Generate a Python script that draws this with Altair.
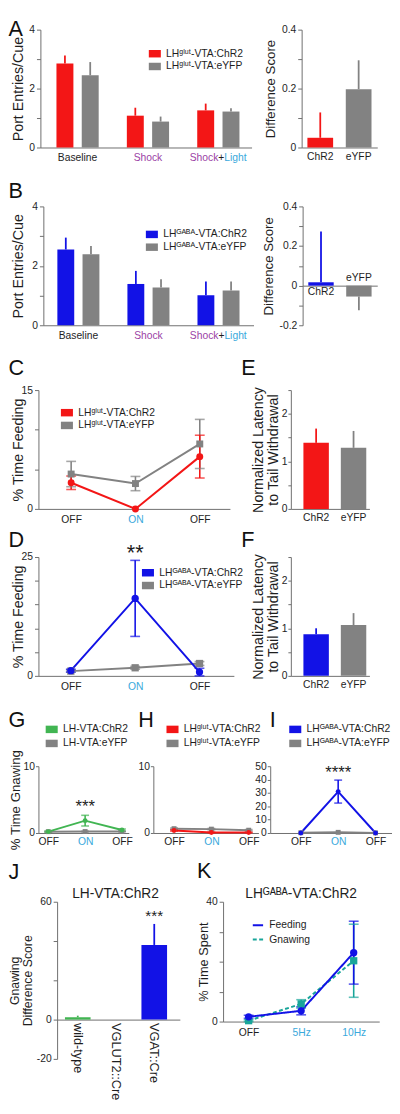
import altair as alt
import numpy as np
import pandas as pd

FONT = "Liberation Sans"
RED = "#f31616"
GRAY = "#828282"
BLUE = "#1212e6"
GREEN = "#41b552"
PURPLE = "#9b3fa5"
CYAN = "#3aa9dc"
TEAL = "#18a59a"
TXT = "#1e1e1e"
AXC = "#6e6e6e"

# ---------------- data ----------------
ab_conditions = ["Baseline", "Shock", "Shock+Light"]
glut_groups = ["LHᵍˡᵘᵗ-VTA:ChR2", "LHᵍˡᵘᵗ-VTA:eYFP"]
gaba_groups = ["LHᴳᴬᴮᴬ-VTA:ChR2", "LHᴳᴬᴮᴬ-VTA:eYFP"]
lh_groups = ["LH-VTA:ChR2", "LH-VTA:eYFP"]
virus = ["ChR2", "eYFP"]

a_chr2_mean = [2.85, 1.08, 1.26]
a_chr2_sem = [0.27, 0.27, 0.23]
a_eyfp_mean = [2.45, 0.88, 1.22]
a_eyfp_sem = [0.45, 0.17, 0.11]
a_diff_mean = [0.033, 0.198]
a_diff_sem = [0.086, 0.098]

b_chr2_mean = [2.55, 1.39, 1.01]
b_chr2_sem = [0.40, 0.44, 0.46]
b_eyfp_mean = [2.39, 1.27, 1.17]
b_eyfp_sem = [0.28, 0.28, 0.30]
b_diff_mean = [0.017, -0.055]
b_diff_sem = [0.257, 0.069]

light_conditions = ["OFF 1", "ON", "OFF 2"]
c_chr2_mean = [3.3, 0.0, 6.6]
c_chr2_sem = [0.85, 0.0, 2.7]
c_eyfp_mean = [4.4, 3.2, 8.2]
c_eyfp_sem = [1.6, 0.9, 3.1]

d_chr2_mean = [1.1, 16.3, 0.8]
d_chr2_sem = [0.3, 8.0, 0.8]
d_eyfp_mean = [1.0, 1.7, 2.6]
d_eyfp_sem = [0.2, 0.3, 0.4]
d_sig = ["ON", 24.4, "**"]

e_mean = [1.39, 1.285]
e_sem = [0.30, 0.355]
f_mean = [0.876, 1.07]
f_sem = [0.125, 0.25]

g_chr2_mean = [0.2, 1.85, 0.45]
g_chr2_sem = [0.1, 0.8, 0.15]
g_eyfp_mean = [0.2, 0.22, 0.22]
g_eyfp_sem = [0.05, 0.05, 0.05]
g_sig = ["ON", 3.1, "***"]

h_chr2_mean = [0.38, 0.08, 0.08]
h_chr2_sem = [0.1, 0.05, 0.05]
h_eyfp_mean = [0.65, 0.58, 0.42]
h_eyfp_sem = [0.1, 0.1, 0.1]

i_chr2_mean = [0.0, 31.0, 0.0]
i_chr2_sem = [0.0, 8.6, 0.0]
i_eyfp_mean = [0.2, 0.5, 0.1]
i_eyfp_sem = [0.0, 0.0, 0.0]
i_sig = ["ON", 41.2, "****"]

j_genotypes = ["wild-type", "VGLUT2::Cre", "VGAT::Cre"]
j_mean = [1.2, 0.0, 38.0]
j_sem = [0.8, 0.0, 10.7]
j_sig = ["VGAT::Cre", 50.0, "***"]

k_freqs = ["OFF", "5Hz", "10Hz"]
k_series = ["Feeding", "Gnawing"]
k_feed_mean = [1.6, 3.6, 23.0]
k_feed_sem = [0.5, 1.35, 10.5]
k_gnaw_mean = [0.3, 5.9, 20.3]
k_gnaw_sem = [0.3, 1.4, 12.2]

# tick values / labels
port_ticks, port_labels = [0, 1, 2, 3, 4], ["0", "", "2", "", "4"]
diffa_ticks, diffa_labels = [0, 0.1, 0.2, 0.3, 0.4], ["0", "", "0.2", "", "0.4"]
diffb_ticks = [-0.2, -0.1, 0, 0.1, 0.2, 0.3, 0.4]
diffb_labels = ["-0.2", "", "0", "", "0.2", "", "0.4"]
c_ticks, c_labels = [0, 5, 10, 15], ["0", "", "", "15"]
d_ticks, d_labels = [0, 5, 10, 15, 20, 25], ["0", "", "", "", "", "25"]
lat_ticks, lat_labels = [0, 0.5, 1, 1.5, 2, 2.5], ["0", "", "1", "", "2", ""]
gh_ticks, gh_labels = [0, 10], ["0", "10"]
i_ticks, i_labels = [0, 10, 20, 30, 40, 50], ["0", "10", "20", "30", "40", "50"]
j_ticks, j_labels = [-20, 0, 20, 40, 60], ["-20", "0", "", "", "60"]
k_ticks, k_labels = [0, 10, 20, 30, 40], ["0", "", "", "", "40"]


# ---------------- helpers ----------------
def lbl_expr(values, labels):
    parts = [f"datum.value == {v} ? '{l}'" for v, l in zip(values, labels) if l != ""]
    return " : ".join(parts) + " : ''"


def axis(**kw):
    d = dict(labelFont=FONT, labelColor=TXT, titleFont=FONT, titleColor=TXT,
             titleFontWeight="normal", domainColor=AXC, tickColor=AXC, grid=False,
             domainWidth=1, tickWidth=1, labelFontSize=10.5, labelOverlap=False)
    d.update(kw)
    return alt.Axis(**d)


def y_axis(title, values, labels, title_x, title_size=14.5, tick=4, pad=2):
    return axis(title=title, values=values, labelExpr=lbl_expr(values, labels), titleX=title_x,
                titleBaseline="bottom", titleFontSize=title_size, tickSize=tick, labelPadding=pad,
                orient="left")


def title_axis(title, title_x, title_size):
    # extra left axis carrying only a second title line
    return axis(title=title, titleX=title_x, titleBaseline="bottom", titleFontSize=title_size,
                labels=False, ticks=False, domain=False, orient="left")


def legend(x, y, row_pad=1.0, sym="M-1,-0.62H1V0.62H-1Z", size=150, stroke=0):
    return alt.Legend(title=None, orient="none", legendX=x, legendY=y, symbolType=sym,
                      symbolSize=size, labelFont=FONT, labelFontSize=10.5, labelColor=TXT,
                      labelOffset=5, rowPadding=row_pad, symbolStrokeWidth=stroke, padding=0)


def spacer(w, h, letter=None, dx=0, offset=0):
    c = alt.Chart(pd.DataFrame({"v": [0]})).mark_point(opacity=0, size=1, strokeWidth=0).encode(
        x=alt.value(0), y=alt.value(h / 2)).properties(width=w, height=h)
    if letter:
        c = c.properties(title=alt.TitleParams(
            letter, anchor="start", dx=dx, offset=offset, fontSize=22, font=FONT,
            fontWeight="normal", baseline="top", color="#111111"))
    return c


def grouped_panel(groups, m1, s1, m2, s2, colors, width, height, yax, leg, align):
    conds = ab_conditions
    df = pd.DataFrame({"cond": conds + conds,
                       "group": [groups[0]] * 3 + [groups[1]] * 3,
                       "mean": m1 + m2, "sem": s1 + s2})
    df["hi"] = df["mean"] + df["sem"]
    xscale = alt.Scale(domain=conds, paddingInner=0.4, paddingOuter=0.2, align=align)
    off = alt.XOffset("group:N", scale=alt.Scale(domain=groups, paddingInner=0.33, paddingOuter=0))

    def col(l):
        return alt.Color("group:N", scale=alt.Scale(domain=groups, range=colors), legend=l)

    y = alt.Y("mean:Q", scale=alt.Scale(domain=[0, 4], nice=False), axis=yax)
    ax1 = axis(title=None, orient="bottom", ticks=False, tickSize=0, labelPadding=5, labelAngle=0,
               labelExpr="datum.value == 'Shock+Light' ? 'Shock' : datum.value",
               labelColor={"condition": {"test": "datum.value == 'Baseline'", "value": TXT}, "value": PURPLE},
               labelAlign={"condition": {"test": "datum.value == 'Shock+Light'", "value": "right"}, "value": "center"})
    ax2 = axis(title=None, orient="bottom", ticks=False, tickSize=0, domain=False, labelPadding=5,
               labelAngle=0, labelAlign="left",
               labelExpr="datum.value == 'Shock+Light' ? '+' : ''")
    ax3 = axis(title=None, orient="bottom", ticks=False, tickSize=0, domain=False, labelPadding=5,
               labelAngle=0, labelAlign="left", labelOffset=6, labelColor=CYAN,
               labelExpr="datum.value == 'Shock+Light' ? 'Light' : ''")
    base = alt.Chart(df)
    bars = base.mark_bar().encode(x=alt.X("cond:N", scale=xscale, axis=ax1), xOffset=off, y=y, color=col(leg))
    errs = base.mark_rule(strokeWidth=1.8).encode(
        x=alt.X("cond:N", scale=xscale, axis=ax2), xOffset=off, y=y, y2="hi:Q", color=col(None))
    ghost = base.mark_point(opacity=0).encode(x=alt.X("cond:N", scale=xscale, axis=ax3), y=y)
    return alt.layer(bars, errs, ghost).resolve_axis(x="independent").properties(width=width, height=height)


def simple_bars(cats, means, sems, colors, width, height, ydom, yax, xaxes, sc, sig=None, yax2=None):
    df = pd.DataFrame({"cat": cats, "mean": means, "sem": sems})
    df["end"] = np.where(df["mean"] < 0, df["mean"] - df["sem"], df["mean"] + df["sem"])
    xscale = alt.Scale(domain=cats, **sc)
    yscale = alt.Scale(domain=ydom, nice=False)
    y = alt.Y("mean:Q", scale=yscale, axis=yax)
    y_second = alt.Y("mean:Q", scale=yscale, axis=yax2) if yax2 is not None else y
    col = alt.Color("cat:N", scale=alt.Scale(domain=cats, range=colors), legend=None)
    base = alt.Chart(df)
    layers = [base.mark_bar().encode(x=alt.X("cat:N", scale=xscale, axis=xaxes[0]), y=y, color=col),
              base.transform_filter("datum.sem > 0").mark_rule(strokeWidth=1.8).encode(
                  x=alt.X("cat:N", scale=xscale, axis=xaxes[-1]), y=y_second, y2="end:Q", color=col)]
    if sig:
        sdf = pd.DataFrame({"cat": [sig[0]], "mean": [sig[1]], "label": [sig[2]]})
        layers.append(alt.Chart(sdf).mark_text(fontSize=15.5, font=FONT, color=TXT, baseline="alphabetic").encode(
            x=alt.X("cat:N", scale=xscale, axis=xaxes[0]),
            y=alt.Y("mean:Q", scale=yscale, axis=None if yax2 is not None else yax), text="label:N"))
    ch = alt.layer(*layers)
    if len(xaxes) > 1:
        ch = ch.resolve_axis(x="independent")
    if yax2 is not None:
        ch = ch.resolve_axis(y="independent")
    return ch.properties(width=width, height=height)


def line_panel(conds, series, means, sems, colors, shapes, width, height, ydom, yax, xsc, xax,
               leg, msize, cap=10, sig=None, sig_size=17, dashes=None):
    rows = []
    for k in reversed(range(len(series))):
        for c, m, s in zip(conds, means[k], sems[k]):
            rows.append({"cond": c, "series": series[k], "mean": m, "sem": s, "lo": m - s, "hi": m + s})
    df = pd.DataFrame(rows)
    xs = alt.X("cond:N", sort=conds, scale=alt.Scale(type="point", domain=conds, **xsc), axis=xax)

    def ys(f):
        return alt.Y(f"{f}:Q", scale=alt.Scale(domain=ydom, nice=False, zero=False), axis=yax)

    def col(l):
        return alt.Color("series:N", scale=alt.Scale(domain=series, range=colors), legend=l)

    base = alt.Chart(df)
    err = base.transform_filter("datum.sem > 0")
    line_enc = dict(x=xs, y=ys("mean"), color=col(leg if dashes else None))
    if dashes:
        line_enc["strokeDash"] = alt.StrokeDash("series:N", scale=alt.Scale(domain=series, range=dashes), legend=leg)
    layers = [
        err.mark_rule(strokeWidth=1.6).encode(x=xs, y=ys("lo"), y2="hi:Q", color=col(None)),
        err.mark_tick(orient="horizontal", size=cap, thickness=1.6).encode(x=xs, y=ys("lo"), color=col(None)),
        err.mark_tick(orient="horizontal", size=cap, thickness=1.6).encode(x=xs, y=ys("hi"), color=col(None)),
        base.mark_line(strokeWidth=2).encode(**line_enc),
    ]
    # markers: second series (eYFP) drawn first, the first series on top; constant shape per layer
    for k in reversed(range(len(series))):
        point_leg = leg if (not dashes and k == len(series) - 1) else None
        layers.append(base.transform_filter(alt.FieldEqualPredicate(field="series", equal=series[k]))
                      .mark_point(filled=True, size=msize, opacity=1, shape=shapes[k])
                      .encode(x=xs, y=ys("mean"), color=col(point_leg)))
    if sig:
        sdf = pd.DataFrame({"cond": [sig[0]], "mean": [sig[1]], "label": [sig[2]]})
        layers.append(alt.Chart(sdf).mark_text(fontSize=sig_size, font=FONT, color=TXT, baseline="alphabetic").encode(
            x=xs, y=ys("mean"), text="label:N"))
    return alt.layer(*layers).resolve_legend(color="independent",
                                             strokeDash="independent").properties(width=width, height=height)


def light_axis(pad=6):
    return axis(title=None, ticks=False, tickSize=0, labelPadding=pad, labelAngle=0,
                labelExpr="datum.value == 'ON' ? 'ON' : 'OFF'",
                labelColor={"condition": {"test": "datum.value == 'ON'", "value": CYAN}, "value": TXT})


def cat_axis(pad=4):
    return axis(title=None, ticks=False, tickSize=0, labelPadding=pad, labelAngle=0)


# ---------------- panels ----------------
A_left = grouped_panel(glut_groups, a_chr2_mean, a_chr2_sem, a_eyfp_mean, a_eyfp_sem, [RED, GRAY],
                       215, 120, y_axis("Port Entries/Cue", port_ticks, port_labels, -15),
                       legend(110, 18), 0.57)
A_right = simple_bars(virus, a_diff_mean, a_diff_sem, [RED, GRAY], 77, 120, [0, 0.4],
                      y_axis("Difference Score", diffa_ticks, diffa_labels, -25, title_size=13.5),
                      [cat_axis()], dict(paddingInner=0.33, paddingOuter=0.15, align=0.5))

B_left = grouped_panel(gaba_groups, b_chr2_mean, b_chr2_sem, b_eyfp_mean, b_eyfp_sem, [BLUE, GRAY],
                       214, 121, y_axis("Port Entries/Cue", port_ticks, port_labels, -18),
                       legend(104, 22), 0.5)
b_off = -121 / 3
B_right = simple_bars(virus, b_diff_mean, b_diff_sem, [BLUE, GRAY], 76, 121, [-0.2, 0.4],
                      y_axis("Difference Score", diffb_ticks, diffb_labels, -28, title_size=13.5),
                      [axis(title=None, orient="bottom", offset=b_off, ticks=False, tickSize=0, labelPadding=1,
                            labelAngle=0, labelBaseline="top",
                            labelExpr="datum.value == 'ChR2' ? 'ChR2' : ''"),
                       axis(title=None, orient="bottom", offset=b_off, ticks=False, tickSize=0, domain=False,
                            labelPadding=-3, labelAngle=0, labelBaseline="bottom",
                            labelExpr="datum.value == 'eYFP' ? 'eYFP' : ''")],
                      dict(paddingInner=0.33, paddingOuter=0.15, align=0.5))

C = line_panel(light_conditions, glut_groups, [c_chr2_mean, c_eyfp_mean], [c_chr2_sem, c_eyfp_sem],
               [RED, GRAY], ["circle", "square"], 195, 121, [0, 15],
               y_axis("% Time Feeding", c_ticks, c_labels, -13),
               dict(padding=0.489, align=0.52), light_axis(), legend(22.5, 16.5), 50)
E = simple_bars(virus, e_mean, e_sem, [RED, GRAY], 80, 121, [0, 2.5],
                y_axis("to Tail Withdrawal", lat_ticks, lat_labels, -11, title_size=14.5, tick=3, pad=1),
                [cat_axis()], dict(paddingInner=0.32, paddingOuter=0.21, align=0.8),
                yax2=title_axis("Normalized Latency", -26, 14.5))

D = line_panel(light_conditions, gaba_groups, [d_chr2_mean, d_eyfp_mean], [d_chr2_sem, d_eyfp_sem],
               [BLUE, GRAY], ["circle", "square"], 199, 121, [0, 25],
               y_axis("% Time Feeding", d_ticks, d_labels, -13),
               dict(padding=0.519, align=0.485), light_axis(), legend(105, 9.5), 55,
               sig=d_sig, sig_size=22)
F = simple_bars(virus, f_mean, f_sem, [BLUE, GRAY], 80, 121, [0, 2.5],
                y_axis("to Tail Withdrawal", lat_ticks, lat_labels, -11, title_size=14.5, tick=3, pad=1),
                [cat_axis()], dict(paddingInner=0.32, paddingOuter=0.21, align=0.8),
                yax2=title_axis("Normalized Latency", -26, 14.5))

G = line_panel(light_conditions, lh_groups, [g_chr2_mean, g_eyfp_mean], [g_chr2_sem, g_eyfp_sem],
               [GREEN, GRAY], ["circle", "square"], 92, 68, [0, 10],
               y_axis("% Time Gnawing", gh_ticks, gh_labels, -16, title_size=13.5, tick=3, pad=1),
               dict(padding=0.227, align=0.59), light_axis(4), legend(7, -44, row_pad=2.3), 25,
               cap=8, sig=g_sig, sig_size=17)
H = line_panel(light_conditions, glut_groups, [h_chr2_mean, h_eyfp_mean], [h_chr2_sem, h_eyfp_sem],
               [RED, GRAY], ["circle", "square"], 107, 68, [0, 10],
               y_axis(None, gh_ticks, gh_labels, -16, tick=3, pad=1),
               dict(padding=0.408, align=0.68), light_axis(4), legend(13, -44, row_pad=2.3), 25, cap=8)
I = line_panel(light_conditions, gaba_groups, [i_chr2_mean, i_eyfp_mean], [i_chr2_sem, i_eyfp_sem],
               [BLUE, GRAY], ["circle", "square"], 124, 68, [0, 50],
               y_axis(None, i_ticks, i_labels, -16, tick=3, pad=1),
               dict(padding=0.63, align=0.65), light_axis(4), legend(19, -44, row_pad=2.3), 25,
               cap=8, sig=i_sig, sig_size=17)

J = simple_bars(j_genotypes, j_mean, j_sem, [GREEN, RED, BLUE], 125, 160, [-20, 60],
                y_axis("Difference Score", j_ticks, j_labels, -23, title_size=12.5),
                [axis(title=None, orient="bottom", offset=-40, ticks=False, tickSize=0, labelPadding=3,
                      labelAngle=90, labelAlign="left", labelBaseline="middle", labelFontSize=13)],
                dict(paddingInner=0.33, paddingOuter=0.27, align=0.38), sig=j_sig,
                yax2=title_axis("Gnawing", -36, 12.5)).properties(
    title=alt.TitleParams("LH-VTA:ChR2", fontSize=14, font=FONT, fontWeight="normal", color=TXT,
                          anchor="middle", offset=-15, baseline="alphabetic", dx=-3))

K = line_panel(k_freqs, k_series, [k_feed_mean, k_gnaw_mean], [k_feed_sem, k_gnaw_sem],
               [BLUE, TEAL], ["circle", "square"], 159, 122, [0, 40],
               y_axis("% Time Spent", k_ticks, k_labels, -13, title_size=13),
               dict(padding=0.486, align=0.5),
               axis(title=None, ticks=False, tickSize=0, labelPadding=6, labelAngle=0,
                    labelColor={"condition": {"test": "datum.value == 'OFF'", "value": TXT}, "value": CYAN}),
               legend(29, 17.5, row_pad=2.5, sym="stroke", size=110, stroke=2), 55,
               dashes=[[1, 0], [4, 2.5]]).properties(
    title=alt.TitleParams("LHᴳᴬᴮᴬ-VTA:ChR2", fontSize=14, font=FONT, fontWeight="normal", color=TXT,
                          anchor="middle", offset=-15, baseline="alphabetic"))


# ---------------- layout ----------------
def indep(c):
    return c.resolve_scale(x="independent", y="independent", color="independent", shape="independent",
                           strokeDash="independent", xOffset="independent").resolve_legend(
        color="independent", shape="independent", strokeDash="independent").resolve_axis(
        x="independent", y="independent")


def hrow(*charts):
    return indep(alt.hconcat(*charts, spacing=0, bounds="flush"))


rowA = hrow(spacer(10, 120, "A", -22, -11), A_left, spacer(51, 120), A_right)
rowB = hrow(spacer(13, 121, "B", -22, 4), B_left, spacer(50, 121), B_right)
rowC = hrow(spacer(8, 121, "C", -22, 10), C, spacer(62, 121, "E", 12, 10), E)
rowD = hrow(spacer(8, 121, "D", -22, 5), D, spacer(58, 121, "F", 8, 5), F)
rowG = hrow(spacer(8, 68, "G", -22, 35), G, spacer(25, 68, "H", 10, 35), H,
            spacer(12, 68, "I", 12, 35), I)
rowJ = hrow(spacer(27, 160, "J", -22, 18), J, spacer(44, 160, "K", 18, 19), K)

chart = indep(alt.vconcat(rowA, spacer(1, 17), rowB, spacer(1, 17), rowC, spacer(1, 4), rowD,
                          spacer(1, 17), rowG, spacer(1, 10), rowJ, spacing=0)).properties(
    padding=0).configure(font=FONT).configure_view(stroke=None)

chart.save("out.html", embed_options={"renderer": "svg", "actions": False})
